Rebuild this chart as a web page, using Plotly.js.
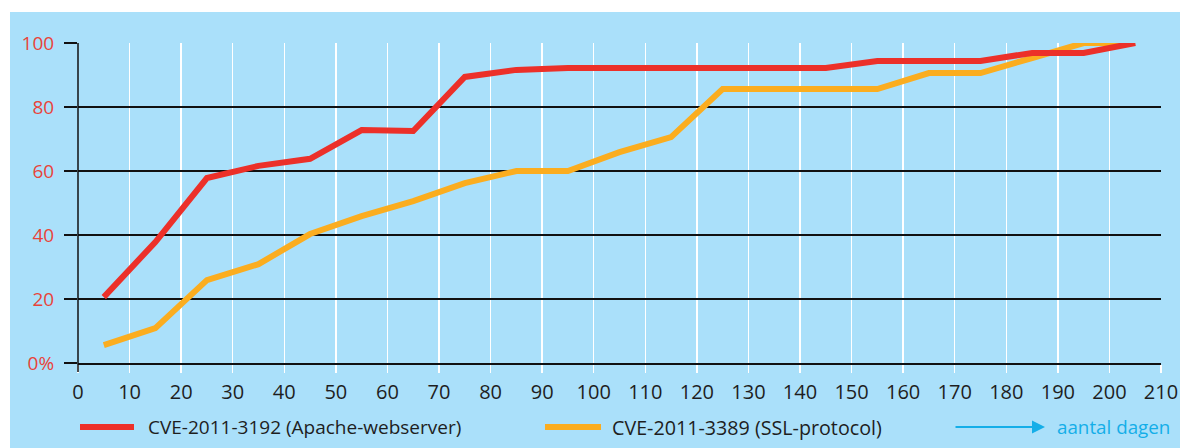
<!DOCTYPE html>
<html>
<head>
<meta charset="utf-8">
<script src="https://cdn.plot.ly/plotly-3.0.1.min.js"></script>
<style>
  html, body { margin: 0; padding: 0; background: #ffffff; width: 1180px; height: 448px; overflow: hidden; }
  #chart { position: absolute; left: 10px; top: 12px; width: 1170px; height: 436px; }
</style>
</head>
<body>
<div id="chart"></div>
<script>
// Data
const days = [5, 15, 25, 35, 45, 55, 65, 75, 85, 95, 105, 115, 125, 135, 145, 155, 165, 175, 185, 195, 205];
const apacheName = "CVE-2011-3192 (Apache-webserver)";
const apacheValues = [20.6, 37.8, 57.8, 61.6, 63.8, 72.8, 72.5, 89.4, 91.6, 92.2, 92.2, 92.2, 92.2, 92.2, 92.2, 94.4, 94.4, 94.4, 96.9, 96.9, 100];
const sslName = "CVE-2011-3389 (SSL-protocol)";
const sslValues = [5.6, 10.9, 25.9, 30.9, 40.3, 45.9, 50.6, 56.2, 60, 60, 65.9, 70.6, 85.6, 85.6, 85.6, 85.6, 90.6, 90.6, 95.3, 100, 100];
const xTickVals = [0, 10, 20, 30, 40, 50, 60, 70, 80, 90, 100, 110, 120, 130, 140, 150, 160, 170, 180, 190, 200, 210];
const yTickVals = [0, 20, 40, 60, 80, 100];
const yTickText = ["0%", "20", "40", "60", "80", "100"];
const xAxisLabel = "aantal dagen";

const RED = "#ec3029";
const ORANGE = "#fbad1f";
const BLUE_BG = "#aae0fa";
const CYAN = "#14aee8";
const TEXT = "#1e1e1e";
const FONT = "'Open Sans', 'Noto Sans', sans-serif";

// plot area geometry in div pixels (for legend placement)
const M = { l: 68, r: 19, t: 31, b: 85 };
const W = 1170, H = 436;
const plotW = W - M.l - M.r, plotH = H - M.t - M.b;
const px = (absX) => (absX - 10 - M.l) / plotW;
const py = (absY) => (H - M.b - (absY - 12)) / plotH;

const traces = [
  { x: days, y: sslValues, name: sslName, type: "scatter", mode: "lines",
    line: { color: ORANGE, width: 6, shape: "linear" }, showlegend: false, hoverinfo: "x+y" },
  { x: days, y: apacheValues, name: apacheName, type: "scatter", mode: "lines",
    line: { color: RED, width: 6, shape: "linear" }, showlegend: false, hoverinfo: "x+y" }
];

const legY = py(427);
const shapes = [
  { type: "line", xref: "paper", yref: "paper", x0: 0, x1: 0, y0: py(372), y1: 1,
    line: { color: "#111", width: 1.5 }, layer: "above" },
  { type: "line", xref: "paper", yref: "paper", x0: px(80), x1: px(134), y0: legY, y1: legY,
    line: { color: RED, width: 6 } },
  { type: "line", xref: "paper", yref: "paper", x0: px(545), x1: px(601), y0: legY, y1: legY,
    line: { color: ORANGE, width: 6 } }
];

const annotations = [
  { xref: "paper", yref: "paper", x: px(146), y: legY, xanchor: "left", yanchor: "middle",
    text: apacheName, showarrow: false, font: { family: FONT, size: 19, color: TEXT } },
  { xref: "paper", yref: "paper", x: px(610), y: legY, xanchor: "left", yanchor: "middle",
    text: sslName, showarrow: false, font: { family: FONT, size: 19.7, color: TEXT } },
  { xref: "paper", yref: "paper", x: px(1045), y: legY, axref: "pixel", ayref: "pixel",
    ax: -91, ay: 0, text: "", showarrow: true, arrowhead: 2, arrowsize: 1.3, arrowwidth: 2,
    arrowcolor: CYAN },
  { xref: "paper", yref: "paper", x: px(1055), y: legY, xanchor: "left", yanchor: "middle",
    text: xAxisLabel, showarrow: false, font: { family: FONT, size: 18.8, color: CYAN } }
];

const layout = {
  width: W, height: H,
  margin: M,
  paper_bgcolor: BLUE_BG,
  plot_bgcolor: BLUE_BG,
  showlegend: false,
  font: { family: FONT, color: TEXT },
  xaxis: {
    range: [0, 210], tickvals: xTickVals, ticktext: xTickVals.map(String),
    showgrid: true, gridcolor: "#ffffff", gridwidth: 1.5,
    zeroline: false, showline: true, linecolor: "#111", linewidth: 1.5,
    ticks: "outside", ticklen: 8, tickwidth: 1.5, tickcolor: "#ffffff",
    ticklabelstandoff: 2,
    tickfont: { family: FONT, size: 20, color: TEXT },
    fixedrange: true
  },
  yaxis: {
    range: [0, 100], tickvals: yTickVals, ticktext: yTickText,
    showgrid: true, gridcolor: "#111", gridwidth: 1.5,
    zeroline: false, showline: false,
    ticks: "outside", ticklen: 13, tickwidth: 1.5, tickcolor: "#111",
    ticklabelstandoff: 6,
    tickfont: { family: FONT, size: 19, color: "#e8443a" },
    fixedrange: true
  },
  shapes: shapes,
  annotations: annotations
};

Plotly.newPlot("chart", traces, layout, { displayModeBar: false, staticPlot: true });
</script>
</body>
</html>
